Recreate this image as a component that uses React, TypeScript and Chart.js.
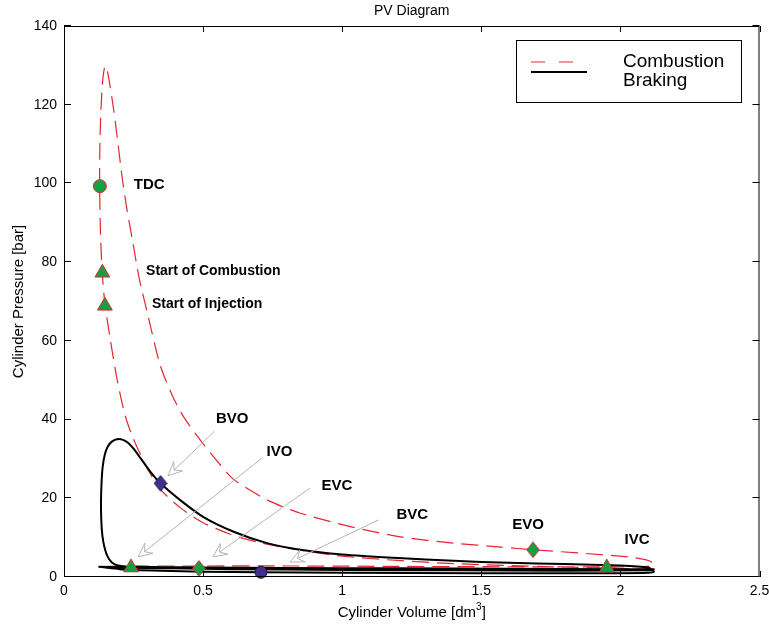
import { useEffect, useRef } from 'react';
import { Chart, registerables } from 'chart.js';

Chart.register(...registerables);

// ---- data (volume dm^3, pressure bar) ----
const combustionLoop: [number, number][] = [
  [2.12, 1.9], [2.04, 2.1], [1.95, 2.3], [1.8, 2.5], [1.6, 2.9], [1.4, 3.4], [1.2, 4.2], [1.0, 5.3],
  [0.85, 6.8], [0.7, 8.8], [0.6, 10.8], [0.5, 13.8], [0.42, 17.5], [0.35, 22.0], [0.3, 27.5],
  [0.25, 35.0], [0.22, 41.0], [0.19, 50.5], [0.165, 61.0], [0.147, 69.4], [0.137, 77.8],
  [0.131, 88.0], [0.128, 99.6], [0.129, 110.0], [0.133, 119.0], [0.139, 126.0], [0.147, 129.8],
  [0.155, 128.8], [0.165, 125.0], [0.178, 119.0], [0.19, 112.5], [0.21, 101.0], [0.225, 94.0],
  [0.245, 86.0], [0.27, 76.0], [0.3, 67.0], [0.345, 54.0], [0.39, 46.0], [0.43, 40.7],
  [0.49, 34.8], [0.55, 29.5], [0.61, 24.8], [0.73, 19.6], [0.85, 16.2], [1.03, 12.8],
  [1.21, 10.2], [1.4, 8.6], [1.57, 7.6], [1.69, 6.9], [1.85, 6.1], [2.03, 5.1], [2.09, 4.4],
  [2.115, 3.7], [2.12, 3.0], [2.1, 2.7], [2.0, 2.6], [1.6, 2.6], [1.2, 2.7], [0.8, 2.8],
  [0.5, 2.8], [0.3, 2.8], [0.24, 2.8], [0.16, 2.7], [0.13, 2.5], [0.2, 2.3], [0.35, 2.2],
  [0.48, 2.2], [0.8, 2.0], [1.2, 1.9], [1.6, 1.8], [2.0, 1.8], [2.12, 1.9],
];

const brakingLoop: [number, number][] = [
  [2.12, 1.6], [2.1, 2.4], [2.0, 2.9], [1.8, 3.3], [1.6, 3.6], [1.4, 4.1], [1.2, 4.8], [1.0, 5.7],
  [0.85, 6.9], [0.73, 8.6], [0.61, 11.5], [0.5, 15.3], [0.42, 19.4], [0.347, 23.8], [0.31, 26.8],
  [0.275, 30.2], [0.25, 32.6], [0.23, 34.1], [0.21, 34.9], [0.19, 35.0], [0.172, 34.4],
  [0.158, 33.2], [0.147, 31.2], [0.139, 28.0], [0.135, 24.0], [0.133, 19.0], [0.134, 14.5],
  [0.138, 10.5], [0.145, 7.7], [0.156, 5.3], [0.172, 3.7], [0.195, 2.9], [0.23, 2.6],
  [0.35, 2.5], [0.5, 2.4], [0.8, 2.3], [1.2, 2.2], [1.6, 2.1], [2.0, 2.0], [2.12, 1.95],
  [2.1, 1.7], [1.8, 1.6], [1.4, 1.7], [1.0, 1.8], [0.6, 2.0], [0.3, 2.3], [0.127, 2.6],
  [0.2, 2.0], [0.35, 1.6], [0.5, 1.35], [0.71, 1.2], [1.0, 1.05], [1.5, 0.95], [2.0, 0.95],
  [2.1, 1.05], [2.12, 1.3], [2.12, 1.6],
];

// event markers: [volume, pressure, shape]
const combustionEvents: [number, number, string][] = [
  [0.129, 99.3, 'circle'],   // TDC
  [0.138, 77.3, 'triangle'], // Start of Combustion
  [0.147, 68.9, 'triangle'], // Start of Injection
  [1.686, 6.9, 'diamond'],   // EVO
  [1.951, 2.4, 'triangle'],  // IVC
  [0.241, 2.4, 'triangle'],  // IVO
  [0.485, 2.2, 'diamond'],   // EVC
];
const brakingEvents: [number, number, string][] = [
  [0.347, 23.8, 'diamond'], // BVO
  [0.708, 1.2, 'circle'],   // BVC
];

// text labels: [text, volume, pressure, size]
const eventLabels: [string, number, number, number][] = [
  ['TDC', 0.251, 99.6, 15],
  ['Start of Combustion', 0.295, 77.7, 14],
  ['Start of Injection', 0.316, 69.4, 14],
  ['BVO', 0.546, 40.1, 15],
  ['IVO', 0.728, 31.7, 15],
  ['EVC', 0.926, 23.2, 15],
  ['BVC', 1.195, 15.8, 15],
  ['EVO', 1.611, 13.2, 15],
  ['IVC', 2.015, 9.4, 15],
];

// arrows: [fromV, fromP, toV, toP]
const eventArrows: [number, number, number, number][] = [
  [0.542, 37.1, 0.374, 25.7],
  [0.711, 30.2, 0.266, 5.1],
  [0.884, 22.6, 0.535, 5.1],
  [1.131, 14.5, 0.812, 3.8],
];

const seriesNames = ['Combustion', 'Braking'];
const xTicks = [0, 0.5, 1, 1.5, 2, 2.5];
const yTicks = [0, 20, 40, 60, 80, 100, 120, 140];

const RED = '#e32630';
const GREEN = '#12a043';
const PURPLE = '#3f2f8e';
const FONT = "'Liberation Sans', Arial, Helvetica, sans-serif";

function makeDiamond(fill: string, stroke: string, w: number, h: number) {
  const c = document.createElement('canvas');
  c.width = w;
  c.height = h;
  const g = c.getContext('2d')!;
  g.beginPath();
  g.moveTo(w / 2, 0.7);
  g.lineTo(w - 0.7, h / 2);
  g.lineTo(w / 2, h - 0.7);
  g.lineTo(0.7, h / 2);
  g.closePath();
  g.fillStyle = fill;
  g.fill();
  g.lineWidth = 1;
  g.strokeStyle = stroke;
  g.stroke();
  return c;
}

export default function App() {
  const ref = useRef<HTMLCanvasElement>(null);

  useEffect(() => {
    if (!ref.current) return;
    const greenDiamond = makeDiamond(GREEN, RED, 14, 17);
    const purpleDiamond = makeDiamond(PURPLE, '#1a1240', 14, 17);

    const styleFor = (s: string, diamond: HTMLCanvasElement) => (s === 'diamond' ? diamond : s);

    const overlay = {
      id: 'overlay',
      afterDraw(chart: any) {
        const ctx: CanvasRenderingContext2D = chart.ctx;
        const xs = chart.scales.x;
        const ys = chart.scales.y;
        const { left, right, top, bottom } = chart.chartArea;
        ctx.save();

        // arrows
        eventArrows.forEach(([fv, fp, tv, tp]) => {
          const x1 = xs.getPixelForValue(fv), y1 = ys.getPixelForValue(fp);
          const x2 = xs.getPixelForValue(tv), y2 = ys.getPixelForValue(tp);
          const dx = x2 - x1, dy = y2 - y1;
          const len = Math.hypot(dx, dy);
          const ux = dx / len, uy = dy / len;
          const nx = -uy, ny = ux;
          const L = 14, W = 6.5;
          const bx = x2 - ux * L, by = y2 - uy * L;
          const notchX = x2 - ux * L * 0.6, notchY = y2 - uy * L * 0.6;
          ctx.strokeStyle = '#b3b3b3';
          ctx.lineWidth = 1;
          ctx.beginPath();
          ctx.moveTo(x1, y1);
          ctx.lineTo(notchX, notchY);
          ctx.stroke();
          ctx.beginPath();
          ctx.moveTo(x2, y2);
          ctx.lineTo(bx + nx * W, by + ny * W);
          ctx.lineTo(notchX, notchY);
          ctx.lineTo(bx - nx * W, by - ny * W);
          ctx.closePath();
          ctx.fillStyle = '#ffffff';
          ctx.fill();
          ctx.stroke();
        });

        // labels
        ctx.fillStyle = '#000';
        ctx.textBaseline = 'middle';
        ctx.textAlign = 'left';
        eventLabels.forEach(([t, v, p, size]) => {
          ctx.font = `bold ${size}px ${FONT}`;
          ctx.fillText(t, xs.getPixelForValue(v), ys.getPixelForValue(p));
        });

        // box + inward ticks
        ctx.strokeStyle = '#000';
        ctx.lineWidth = 1;
        ctx.strokeRect(left + 0.5, top + 0.5, right - left - 1, bottom - top - 1);
        ctx.beginPath();
        xTicks.forEach((v) => {
          const px = Math.round(xs.getPixelForValue(v)) + 0.5;
          ctx.moveTo(px, bottom);
          ctx.lineTo(px, bottom - 6);
          ctx.moveTo(px, top);
          ctx.lineTo(px, top + 6);
        });
        yTicks.forEach((v) => {
          const py = Math.round(ys.getPixelForValue(v)) - 0.5;
          ctx.moveTo(left, py);
          ctx.lineTo(left + 7, py);
          ctx.moveTo(right, py);
          ctx.lineTo(right - 7, py);
        });
        ctx.stroke();

        // title
        ctx.fillStyle = '#000';
        ctx.textAlign = 'center';
        ctx.textBaseline = 'middle';
        ctx.font = `14px ${FONT}`;
        const cx = (left + right) / 2;
        ctx.fillText('PV Diagram', cx, 11);

        // x axis title with superscript
        const main = 'Cylinder Volume [dm';
        const sup = '3';
        const end = ']';
        ctx.font = `15px ${FONT}`;
        const wMain = ctx.measureText(main).width;
        const wEnd = ctx.measureText(end).width;
        ctx.font = `10px ${FONT}`;
        const wSup = ctx.measureText(sup).width;
        const total = wMain + wSup + wEnd;
        let sx = cx - total / 2;
        const ty = 613;
        ctx.textAlign = 'left';
        ctx.font = `15px ${FONT}`;
        ctx.fillText(main, sx, ty);
        sx += wMain;
        ctx.font = `10px ${FONT}`;
        ctx.fillText(sup, sx, ty - 6);
        sx += wSup;
        ctx.font = `15px ${FONT}`;
        ctx.fillText(end, sx, ty);

        // y axis title
        ctx.save();
        ctx.translate(19, (top + bottom) / 2);
        ctx.rotate(-Math.PI / 2);
        ctx.textAlign = 'center';
        ctx.font = `15px ${FONT}`;
        ctx.fillText('Cylinder Pressure [bar]', 0, 0);
        ctx.restore();

        // legend
        const lx = 516, ly = 40, lw = 225, lh = 62;
        ctx.fillStyle = '#fff';
        ctx.fillRect(lx, ly, lw, lh);
        ctx.strokeStyle = '#000';
        ctx.lineWidth = 1;
        ctx.strokeRect(lx + 0.5, ly + 0.5, lw, lh);
        ctx.strokeStyle = RED;
        ctx.setLineDash([14, 14]);
        ctx.beginPath();
        ctx.moveTo(531, 62);
        ctx.lineTo(578, 62);
        ctx.stroke();
        ctx.setLineDash([]);
        ctx.strokeStyle = '#000';
        ctx.lineWidth = 2;
        ctx.beginPath();
        ctx.moveTo(531, 72);
        ctx.lineTo(587, 72);
        ctx.stroke();
        ctx.fillStyle = '#000';
        ctx.font = `19px ${FONT}`;
        ctx.textAlign = 'left';
        ctx.textBaseline = 'middle';
        ctx.fillText(seriesNames[0], 623, 62);
        ctx.fillText(seriesNames[1], 623, 81);

        ctx.restore();
      },
    };

    const tickFont = { family: FONT, size: 14 };

    const chart = new Chart(ref.current, {
      type: 'scatter',
      data: {
        datasets: [
          {
            label: 'combustion events',
            data: combustionEvents.map(([x, y]) => ({ x, y })),
            pointStyle: combustionEvents.map(([, , s]) => styleFor(s, greenDiamond)) as any,
            pointRadius: combustionEvents.map(([, , s]) => (s === 'triangle' ? 8.5 : 6.5)),
            backgroundColor: GREEN,
            borderColor: RED,
            pointBorderWidth: 1,
            showLine: false,
            order: 1,
            clip: false as any,
          },
          {
            label: 'braking events',
            data: brakingEvents.map(([x, y]) => ({ x, y })),
            pointStyle: brakingEvents.map(([, , s]) => styleFor(s, purpleDiamond)) as any,
            pointRadius: 6,
            backgroundColor: PURPLE,
            borderColor: '#1a1240',
            pointBorderWidth: 1,
            showLine: false,
            order: 1,
            clip: false as any,
          },
          {
            label: seriesNames[1],
            data: brakingLoop.map(([x, y]) => ({ x, y })),
            showLine: true,
            borderColor: '#000',
            borderWidth: 2,
            pointRadius: 0,
            tension: 0.2,
            order: 2,
          },
          {
            label: seriesNames[0],
            data: combustionLoop.map(([x, y]) => ({ x, y })),
            showLine: true,
            borderColor: RED,
            borderWidth: 1.2,
            borderDash: [17, 8],
            pointRadius: 0,
            tension: 0.25,
            order: 3,
          },
        ],
      },
      options: {
        animation: false,
        responsive: false,
        events: [],
        layout: { padding: { top: 26, right: 9, left: 0, bottom: 0 } },
        plugins: {
          legend: { display: false },
          title: { display: false },
          tooltip: { enabled: false },
        },
        scales: {
          x: {
            type: 'linear',
            min: 0,
            max: 2.5,
            afterFit: (s: any) => {
              s.height = 50;
              s.paddingLeft = 0;
              s.paddingRight = 0;
            },
            afterBuildTicks: (s: any) => {
              s.ticks = xTicks.map((v) => ({ value: v }));
            },
            ticks: {
              padding: 6,
              color: '#000',
              maxRotation: 0,
              font: tickFont,
              callback: (v: any) => String(v),
            },
            grid: { display: false, drawTicks: false },
            border: { display: false },
          },
          y: {
            type: 'linear',
            min: 0,
            max: 140,
            afterFit: (s: any) => {
              s.width = 64;
              s.paddingTop = 0;
              s.paddingBottom = 0;
            },
            afterBuildTicks: (s: any) => {
              s.ticks = yTicks.map((v) => ({ value: v }));
            },
            ticks: { padding: 7, color: '#000', font: tickFont, callback: (v: any) => String(v) },
            grid: { display: false, drawTicks: false },
            border: { display: false },
          },
        },
      },
      plugins: [overlay],
    } as any);

    return () => chart.destroy();
  }, []);

  return (
    <div style={{ position: 'fixed', left: 0, top: 0, width: 769, height: 627, background: '#fff' }}>
      <canvas ref={ref} width={769} height={627} style={{ display: 'block', width: 769, height: 627 }} />
    </div>
  );
}
